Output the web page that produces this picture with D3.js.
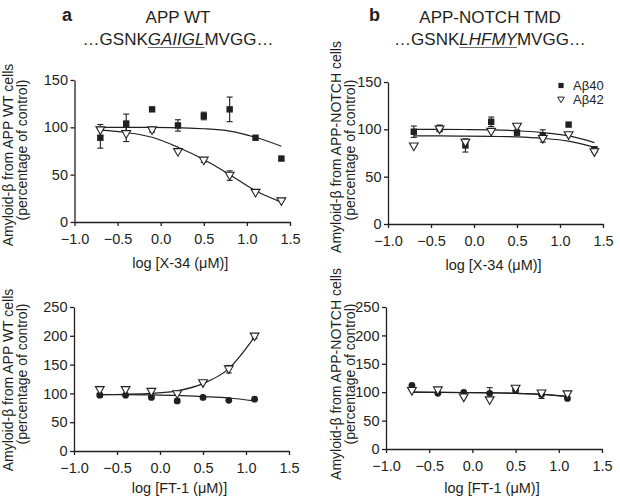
<!DOCTYPE html>
<html>
<head>
<meta charset="utf-8">
<script src="https://cdn.jsdelivr.net/npm/d3@7/dist/d3.min.js"></script>
<style>
  html, body { margin: 0; padding: 0; background: #fff; }
  svg { display: block; }
  text { font-family: "Liberation Sans", Arial, Helvetica, sans-serif; fill: #231f20; }
</style>
</head>
<body>
<svg id="chart" width="620" height="503"></svg>
<script>
// ---------------- DATA ----------------
const seriesNames = ["Aβ40", "Aβ42"];
const xTicks = [-1.0, -0.5, 0.0, 0.5, 1.0, 1.5];
const yTicksTop = [0, 50, 100, 150];
const yTicksBottom = [0, 50, 100, 150, 200, 250];

// log concentrations
const logX34 = [-0.7, -0.4, -0.1, 0.2, 0.5, 0.8, 1.1, 1.4];
const logFT1 = [-0.7, -0.4, -0.1, 0.2, 0.5, 0.8, 1.1];

// a (top): X-34 on APP WT
const wtX34_ab40 = [89, 104, 119, 102, 112, 119, 89, 67];
const wtX34_ab40_err = [11, 10, 0, 6, 4, 13, 0, 2];
const wtX34_ab42 = [97, 93, 97, 74, 65, 49, 31, 22];
const wtX34_ab42_err = [6, 8, 2, 0, 2, 5, 0, 0];
const wtX34_fit40 = [100, 100, 100, 99.5, 98.5, 96, 89.5, 80];
const wtX34_fit42 = [97, 94.5, 89.5, 79, 66, 50, 33, 21];

// b (top): X-34 on APP-NOTCH TMD
const ntX34_ab40 = [97.5, 101, 83, 108, 96.5, 93, 105, 79];
const ntX34_ab40_err = [6, 3.5, 7, 5, 2.5, 6.5, 0, 2];
const ntX34_ab42 = [82, 100, 86, 97.5, 103, 90, 94, 76];
const ntX34_ab42_err = [0, 0, 0, 0, 0, 0, 0, 0];
const ntX34_fit40 = [100, 100, 99.8, 99.4, 98.5, 96.5, 93, 86];
const ntX34_fit42 = [93, 93, 92.8, 92.5, 92, 90.5, 87.5, 81];

// a (bottom): FT-1 on APP WT
const wtFT1_ab40 = [97, 97, 93, 87, 93, 88, 90];
const wtFT1_ab40_err = [3, 0, 2, 3, 0, 0, 0];
const wtFT1_ab42 = [106, 106, 103, 99, 118, 142, 199];
const wtFT1_ab42_err = [6, 0, 3, 0, 0, 6.5, 4];
const wtFT1_fit40 = [98, 98, 97.5, 96.5, 94.5, 92, 87];
const wtFT1_fit42 = [98, 98.5, 100, 104.5, 117, 143, 198];

// b (bottom): FT-1 on APP-NOTCH TMD
const ntFT1_ab40 = [112, 98, 99.5, 98, 103.5, 96, 89];
const ntFT1_ab40_err = [0, 0, 0, 10, 4, 7, 0];
const ntFT1_ab42 = [102.5, 103.5, 91, 86, 106.5, 98, 96.5];
const ntFT1_ab42_err = [0, 0, 0, 0, 0, 0, 0];
const ntFT1_fit40 = [100, 99.8, 99.5, 99, 98, 96, 92];
const ntFT1_fit42 = [100, 99.8, 99.4, 98.8, 98, 96.3, 93];

// ---------------- LAYOUT ----------------
const INK = "#231f20";
const FS = "14.5px";
const FSY = "14px";
const svg = d3.select("#chart");

const panels = [
  { xs: logX34, s40: wtX34_ab40, e40: wtX34_ab40_err, s42: wtX34_ab42, e42: wtX34_ab42_err,
    f40: wtX34_fit40, f42: wtX34_fit42, yTicks: yTicksTop, marker40: "square",
    xr: [74.5, 290], yr: [222, 80], xTitle: "log [X-34 (μM)]", xTitleY: 268,
    yTitle1: "Amyloid-β from APP WT cells", yT1x: 13, yT2x: 27, yT1c: 155, yT2c: 150, legend: false },
  { xs: logX34, s40: ntX34_ab40, e40: ntX34_ab40_err, s42: ntX34_ab42, e42: ntX34_ab42_err,
    f40: ntX34_fit40, f42: ntX34_fit42, yTicks: yTicksTop, marker40: "square",
    xr: [388, 603], yr: [224, 82], xTitle: "log [X-34 (μM)]", xTitleY: 270,
    yTitle1: "Amyloid-β from APP-NOTCH cells", yT1x: 341, yT2x: 355, yT1c: 147, yT2c: 150, legend: true },
  { xs: logFT1, s40: wtFT1_ab40, e40: wtFT1_ab40_err, s42: wtFT1_ab42, e42: wtFT1_ab42_err,
    f40: wtFT1_fit40, f42: wtFT1_fit42, yTicks: yTicksBottom, marker40: "circle",
    xr: [74, 289], yr: [451, 307], xTitle: "log [FT-1 (μM)]", xTitleY: 493,
    yTitle1: "Amyloid-β from APP WT cells", yT1x: 13, yT2x: 27, yT1c: 380, yT2c: 374, legend: false },
  { xs: logFT1, s40: ntFT1_ab40, e40: ntFT1_ab40_err, s42: ntFT1_ab42, e42: ntFT1_ab42_err,
    f40: ntFT1_fit40, f42: ntFT1_fit42, yTicks: yTicksBottom, marker40: "circle",
    xr: [386, 602], yr: [449, 307], xTitle: "log [FT-1 (μM)]", xTitleY: 493,
    yTitle1: "Amyloid-β from APP-NOTCH cells", yT1x: 341, yT2x: 355, yT1c: 374, yT2c: 374, legend: false }
];

const triPath = "M-4.4,-3.3L4.4,-3.3L0,4.3Z";

function drawMarker(g, type, x, y) {
  if (type === "square") {
    g.append("rect").attr("x", x - 3.2).attr("y", y - 3.2).attr("width", 6.4).attr("height", 6.4).attr("fill", INK);
  } else if (type === "circle") {
    g.append("circle").attr("cx", x).attr("cy", y).attr("r", 3.4).attr("fill", INK);
  } else {
    g.append("path").attr("d", triPath).attr("transform", `translate(${x},${y})`)
      .attr("fill", "#fff").attr("stroke", INK).attr("stroke-width", 1.1);
  }
}

function drawMarkerSmall(g, type, x, y) {
  if (type === "square") {
    g.append("rect").attr("x", x - 2.6).attr("y", y - 2.6).attr("width", 5.2).attr("height", 5.2).attr("fill", INK);
  } else {
    g.append("path").attr("d", "M-3.3,-2.4L3.3,-2.4L0,3.2Z").attr("transform", `translate(${x},${y})`)
      .attr("fill", "#fff").attr("stroke", INK).attr("stroke-width", 1);
  }
}

panels.forEach(p => {
  const ymax = p.yTicks[p.yTicks.length - 1];
  const x = d3.scaleLinear().domain([-1, 1.5]).range(p.xr);
  const y = d3.scaleLinear().domain([0, ymax]).range(p.yr);
  const g = svg.append("g");

  // axes
  const xAxis = d3.axisBottom(x).tickValues(xTicks).tickFormat(d3.format(".1f")).tickSizeInner(4).tickSizeOuter(0).tickPadding(7.5);
  const yAxis = d3.axisLeft(y).tickValues(p.yTicks).tickSizeInner(4).tickSizeOuter(0).tickPadding(2.5);
  const gx = g.append("g").attr("transform", `translate(0,${p.yr[0]})`).call(xAxis);
  const gy = g.append("g").attr("transform", `translate(${p.xr[0]},0)`).call(yAxis);
  [gx, gy].forEach(a => {
    a.selectAll("path, line").attr("stroke", INK).attr("stroke-width", 1.3);
    a.selectAll("text").style("font-size", FS).attr("fill", INK)
      .style("font-family", '"Liberation Sans", Arial, sans-serif');
  });

  // axis titles
  g.append("text").attr("x", (p.xr[0] + p.xr[1]) / 2 - 2).attr("y", p.xTitleY)
    .attr("text-anchor", "middle").style("font-size", FS).text(p.xTitle);
  g.append("text").attr("transform", `translate(${p.yT1x},${p.yT1c}) rotate(-90)`)
    .attr("text-anchor", "middle").style("font-size", FSY).text(p.yTitle1);
  g.append("text").attr("transform", `translate(${p.yT2x},${p.yT2c}) rotate(-90)`)
    .attr("text-anchor", "middle").style("font-size", FSY).text("(percentage of control)");

  // error bars
  const drawErr = (vals, errs) => {
    vals.forEach((v, i) => {
      const e = errs[i];
      if (!e) return;
      const cx = x(p.xs[i]);
      g.append("line").attr("x1", cx).attr("x2", cx).attr("y1", y(v - e)).attr("y2", y(v + e))
        .attr("stroke", INK).attr("stroke-width", 1.1);
      [v - e, v + e].forEach(t => {
        g.append("line").attr("x1", cx - 3).attr("x2", cx + 3).attr("y1", y(t)).attr("y2", y(t))
          .attr("stroke", INK).attr("stroke-width", 1.1);
      });
    });
  };
  drawErr(p.s40, p.e40);
  drawErr(p.s42, p.e42);

  // fitted curves
  const line = d3.line().x((d, i) => x(p.xs[i])).y(d => y(d)).curve(d3.curveMonotoneX);
  [p.f40, p.f42].forEach(f => {
    g.append("path").attr("d", line(f)).attr("fill", "none").attr("stroke", INK).attr("stroke-width", 1.2);
  });

  // markers
  p.s40.forEach((v, i) => drawMarker(g, p.marker40, x(p.xs[i]), y(v)));
  p.s42.forEach((v, i) => drawMarker(g, "tri", x(p.xs[i]), y(v)));

  if (p.legend) {
    const lg = svg.append("g");
    drawMarkerSmall(lg, "square", 561, 85.5);
    drawMarkerSmall(lg, "tri", 561, 99.5);
    lg.append("text").attr("x", 573).attr("y", 90).style("font-size", "13px").text(seriesNames[0]);
    lg.append("text").attr("x", 573).attr("y", 104).style("font-size", "13px").text(seriesNames[1]);
  }
});

// ---------------- HEADINGS ----------------
function heading(letter, lx, title, cx, pre, ital, post) {
  svg.append("text").attr("x", lx).attr("y", 21).style("font-size", "18px").style("font-weight", "bold").text(letter);
  svg.append("text").attr("x", cx).attr("y", 23).attr("text-anchor", "middle").style("font-size", "17px").text(title);
  const t = svg.append("text").attr("x", cx).attr("y", 45).attr("text-anchor", "middle").style("font-size", "17px");
  t.append("tspan").text(pre);
  t.append("tspan").style("font-style", "italic").text(ital);
  t.append("tspan").text(post);
  const node = t.node();
  const s = node.getStartPositionOfChar(pre.length).x;
  const e = node.getEndPositionOfChar(pre.length + ital.length - 1).x;
  svg.append("line").attr("x1", s).attr("x2", e).attr("y1", 47.5).attr("y2", 47.5)
    .attr("stroke", "#6d6d6d").attr("stroke-width", 1.2);
}
heading("a", 62, "APP WT", 178, "…GSNK", "GAIIGL", "MVGG…");
heading("b", 369, "APP-NOTCH TMD", 490, "…GSNK", "LHFMY", "MVGG…");
</script>
</body>
</html>
